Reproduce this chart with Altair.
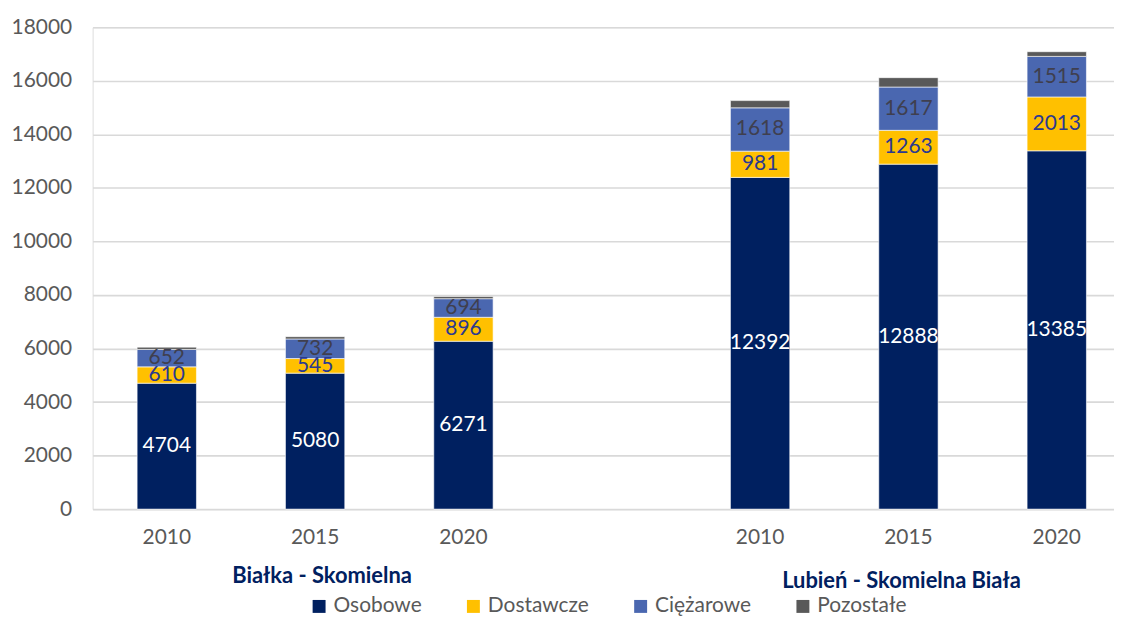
import altair as alt
import pandas as pd

categories = ["B2010", "B2015", "B2020", "gap", "L2010", "L2015", "L2020"]
bar_cats = ["B2010", "B2015", "B2020", "L2010", "L2015", "L2020"]
series = ["Osobowe", "Dostawcze", "Ciężarowe", "Pozostałe"]
osobowe = [4704, 5080, 6271, 12392, 12888, 13385]
dostawcze = [610, 545, 896, 981, 1263, 2013]
ciezarowe = [652, 732, 694, 1618, 1617, 1515]
pozostale = [85, 85, 80, 270, 350, 175]
colors = ["#002060", "#FFC000", "#4A67B0", "#595959"]
label_colors = ["#FFFFFF", "#2B3990", "#3F3F4F", ""]
group_names = ["Białka - Skomielna", "Lubień - Skomielna Biała"]
group_anchor = ["B2015", "L2015"]
y_ticks = [0, 2000, 4000, 6000, 8000, 10000, 12000, 14000, 16000, 18000]

FONT = "Lato"

rows = []
values_by_series = [osobowe, dostawcze, ciezarowe, pozostale]
for i, cat in enumerate(bar_cats):
    base = 0
    for k, s in enumerate(series):
        v = values_by_series[k][i]
        rows.append({
            "cat": cat, "series": s, "ord": k, "value": v,
            "start": base, "end": base + v, "mid": base + v / 2,
            "lab": str(v) if label_colors[k] else "",
            "lcol": label_colors[k] if label_colors[k] else "#000000",
        })
        base += v
df = pd.DataFrame(rows)


def xscale():
    return alt.Scale(domain=categories, range=[0, 1043], paddingInner=0.6, paddingOuter=0.3)


x_enc = alt.X(
    "cat:N",
    scale=xscale(),
    axis=alt.Axis(
        title=None, labelExpr="datum.value == 'gap' ? '' : substring(datum.value, 1)",
        labelAngle=0, ticks=False, domain=False, grid=False,
        labelFont=FONT, labelFontSize=21, labelColor="#595959", labelPadding=18,
    ),
)

y_scale = alt.Scale(domain=[0, 18000], nice=False)

bars = alt.Chart(df).mark_bar(stroke="#ffffff", strokeWidth=0.6).encode(
    x=x_enc,
    y=alt.Y(
        "start:Q", scale=y_scale,
        axis=alt.Axis(
            title=None, values=y_ticks, format="d", ticks=False, domain=False, grid=True,
            gridColor="#d9d9d9", gridWidth=1.6,
            labelFont=FONT, labelFontSize=21, labelColor="#595959", labelPadding=21,
        ),
    ),
    y2="end:Q",
    color=alt.Color(
        "series:N",
        scale=alt.Scale(domain=series, range=colors),
        legend=alt.Legend(
            orient="none", legendX=217, legendY=571, direction="horizontal",
            title=None, symbolType="square", symbolSize=169, symbolStrokeWidth=0,
            labelFont=FONT, labelFontSize=21, labelColor="#595959",
            columnPadding=41, labelOffset=4,
        ),
    ),
)

labels = alt.Chart(df).transform_filter("datum.lab != ''").mark_text(
    font=FONT, fontSize=21, baseline="middle", align="center"
).encode(
    x=alt.X("cat:N", scale=xscale()),
    y=alt.Y("mid:Q", scale=y_scale),
    text="lab:N",
    color=alt.Color("lcol:N", scale=None),
)

gdf = pd.DataFrame({"name": group_names, "cat": group_anchor})

g1 = alt.Chart(gdf.iloc[[0]]).mark_text(
    font=FONT, fontSize=22, fontWeight="bold", color="#002060", dx=7, baseline="middle"
).encode(
    x=alt.X("cat:N", scale=xscale()),
    y=alt.value(551),
    text="name:N",
)
g2 = alt.Chart(gdf.iloc[[1]]).mark_text(
    font=FONT, fontSize=22, fontWeight="bold", color="#002060", dx=-7, baseline="middle"
).encode(
    x=alt.X("cat:N", scale=xscale()),
    y=alt.value(556),
    text="name:N",
)

chart = alt.layer(bars, labels, g1, g2).properties(
    width=1026, height=484,
    autosize=alt.AutoSizeParams(type="none"),
    padding={"left": 85, "top": 18, "right": 0, "bottom": 108},
).configure_view(stroke=None).configure(background="#ffffff")

chart.save("out.html", embed_options={"renderer": "svg", "actions": False})
